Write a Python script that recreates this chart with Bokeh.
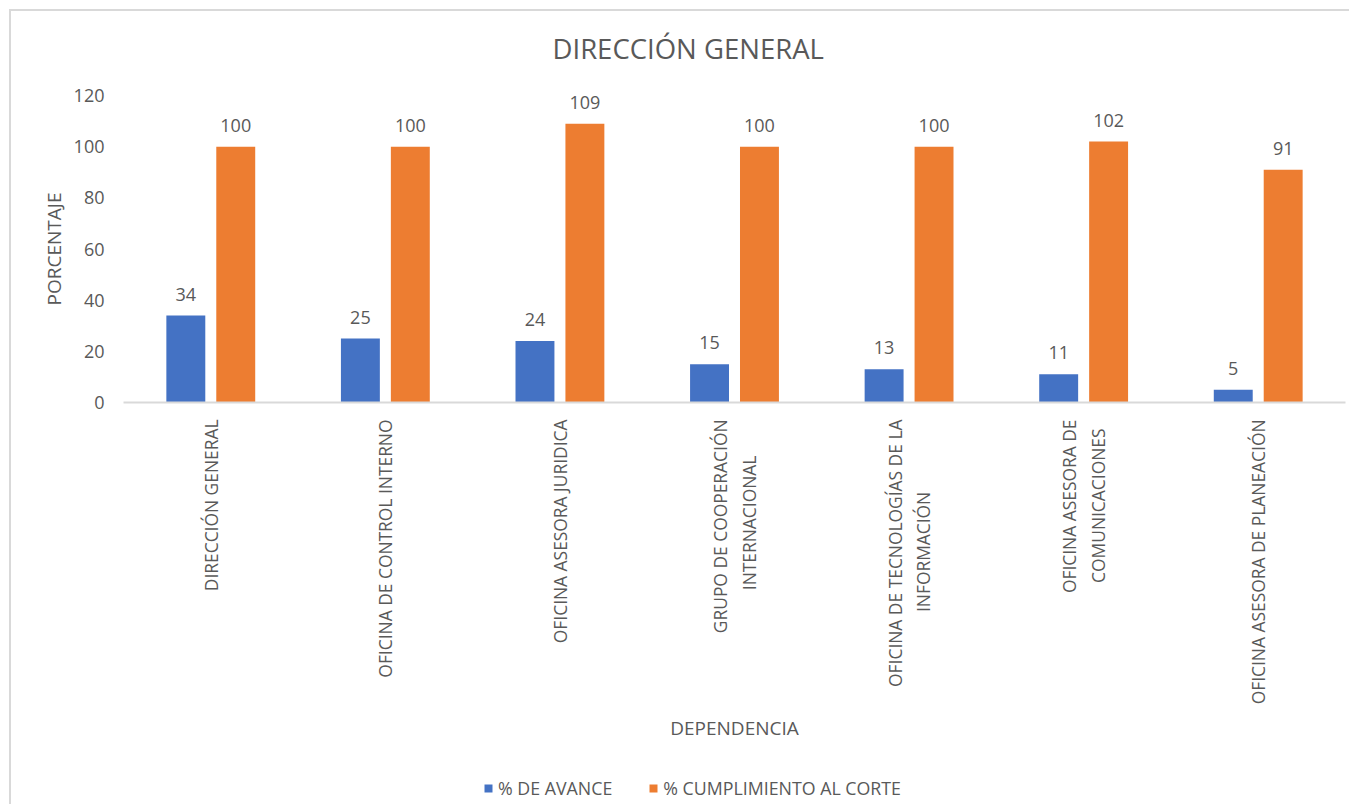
import math
from bokeh.plotting import figure
from bokeh.layouts import column
from bokeh.models import (Range1d, FixedTicker, ColumnDataSource, LabelSet, Legend,
                          LegendItem)
from bokeh.core.properties import value
from bokeh.embed import file_html
from bokeh.resources import INLINE

# ---------------- data ----------------
categories = [
    "DIRECCIÓN GENERAL",
    "OFICINA DE CONTROL INTERNO",
    "OFICINA ASESORA JURIDICA",
    "GRUPO DE COOPERACIÓN INTERNACIONAL",
    "OFICINA DE TECNOLOGÍAS DE LA INFORMACIÓN",
    "OFICINA ASESORA DE COMUNICACIONES",
    "OFICINA ASESORA DE PLANEACIÓN",
]
# tick labels split in lines as in the chart
category_lines = [
    ["DIRECCIÓN GENERAL"],
    ["OFICINA DE CONTROL INTERNO"],
    ["OFICINA ASESORA JURIDICA"],
    ["GRUPO DE COOPERACIÓN", "INTERNACIONAL"],
    ["OFICINA DE TECNOLOGÍAS DE LA", "INFORMACIÓN"],
    ["OFICINA ASESORA DE", "COMUNICACIONES"],
    ["OFICINA ASESORA DE PLANEACIÓN"],
]
avance = [34, 25, 24, 15, 13, 11, 5]
cumplimiento = [100, 100, 109, 100, 100, 102, 91]
series_names = ["% DE AVANCE", "% CUMPLIMIENTO AL CORTE"]
y_ticks = [0, 20, 40, 60, 80, 100, 120]

title_text = "DIRECCIÓN GENERAL"
x_title = "DEPENDENCIA"
y_title = "PORCENTAJE"

# ---------------- style ----------------
FONT = "Open Sans"
TXT = "#595959"
BLUE = "#4472C4"
ORANGE = "#ED7D31"
GREY = "#d9d9d9"
OFFSET = 0.143
BAR_W = 0.223
# non-breaking-space padding that centres a shorter second line under the first
LINE_PAD = {3: 8, 4: 16, 5: 2}

n = len(categories)
idx = list(range(n))
tick_labels = {}
for i, lines in enumerate(category_lines):
    if len(lines) > 1:
        lines = [lines[0], lines[1] + "\u00a0" * LINE_PAD.get(i, 0)]
    tick_labels[i] = "\n".join(lines)

src = ColumnDataSource(dict(
    x_a=[i - OFFSET for i in idx],
    x_c=[i + OFFSET for i in idx],
    avance=avance,
    cumplimiento=cumplimiento,
    lab_a=[str(v) for v in avance],
    lab_c=[str(v) for v in cumplimiento],
))

# ---------------- main chart ----------------
p = figure(width=1349, height=752, output_backend="svg", toolbar_location=None,
           x_range=Range1d(-0.5, n - 0.5), y_range=Range1d(y_ticks[0], y_ticks[-1]),
           min_border_left=123, min_border_right=4, min_border_top=94,
           min_border_bottom=350, title=title_text)
p.outline_line_color = None
p.grid.visible = False
p.background_fill_color = "white"
p.border_fill_alpha = 0
p.styles = {
    "background": (f"linear-gradient({GREY},{GREY}) 9px 9px / 2px 100% no-repeat, "
                   f"linear-gradient({GREY},{GREY}) 9px 9px / 100% 2px no-repeat, white")
}

p.title.align = "left"
p.title.offset = 429
p.title.vertical_align = "middle"
p.title.standoff = 56
p.title.text_font = FONT
p.title.text_font_size = "27.5px"
p.title.text_font_style = "normal"
p.title.text_color = TXT

p.vbar(x="x_a", top="avance", width=BAR_W, source=src, fill_color=BLUE, line_color=None)
p.vbar(x="x_c", top="cumplimiento", width=BAR_W, source=src, fill_color=ORANGE,
       line_color=None)

for xf, yf, tf in (("x_a", "avance", "lab_a"), ("x_c", "cumplimiento", "lab_c")):
    p.add_layout(LabelSet(x=xf, y=yf, text=tf, source=src, text_align="center",
                          text_baseline="alphabetic", y_offset=15,
                          text_font=value(FONT), text_font_size="18px",
                          text_color=TXT))

xa = p.xaxis[0]
xa.ticker = FixedTicker(ticks=idx)
xa.major_label_overrides = tick_labels
xa.major_label_orientation = math.pi / 2
xa.major_tick_line_color = None
xa.minor_tick_line_color = None
xa.axis_line_color = GREY
xa.axis_line_width = 2
xa.major_label_text_font = FONT
xa.major_label_text_font_size = "17.4px"
xa.major_label_text_color = TXT
xa.major_label_standoff = 11
xa.axis_label = x_title
xa.axis_label_text_font = FONT
xa.axis_label_text_font_size = "19px"
xa.axis_label_text_font_style = "normal"
xa.axis_label_text_color = TXT
xa.axis_label_standoff = 8

ya = p.yaxis[0]
ya.ticker = FixedTicker(ticks=y_ticks)
ya.axis_line_color = None
ya.major_tick_line_color = None
ya.minor_tick_line_color = None
ya.major_label_text_font = FONT
ya.major_label_text_font_size = "18px"
ya.major_label_text_color = TXT
ya.major_label_standoff = 13
ya.axis_label = y_title
ya.axis_label_text_font = FONT
ya.axis_label_text_font_size = "19px"
ya.axis_label_text_font_style = "normal"
ya.axis_label_text_color = TXT
ya.axis_label_standoff = 4

# ---------------- legend strip ----------------
lg = figure(width=1349, height=52, output_backend="svg", toolbar_location=None,
            x_range=Range1d(0, 1), y_range=Range1d(0, 1),
            x_axis_location=None, y_axis_location=None,
            min_border_left=0, min_border_right=0, min_border_top=0,
            min_border_bottom=0)
lg.outline_line_color = None
lg.grid.visible = False
lg.background_fill_alpha = 0
lg.border_fill_alpha = 0
lg.styles = {
    "background": f"linear-gradient({GREY},{GREY}) 9px 0 / 2px 100% no-repeat, white"
}
la = lg.vbar(x="x_a", top="avance", width=BAR_W, source=src, fill_color=BLUE,
             line_color=None, visible=False)
lc = lg.vbar(x="x_c", top="cumplimiento", width=BAR_W, source=src, fill_color=ORANGE,
             line_color=None, visible=False)
legend = Legend(items=[LegendItem(label=series_names[0], renderers=[la]),
                       LegendItem(label=series_names[1], renderers=[lc])],
                orientation="horizontal", location=(360, 4),
                glyph_width=10, glyph_height=10, label_standoff=5, spacing=36,
                padding=0, margin=0, border_line_color=None,
                background_fill_alpha=0,
                label_text_font=FONT, label_text_font_size="17.8px",
                label_text_color=TXT)
lg.add_layout(legend)

layout = column(p, lg, spacing=0)
open("out.html", "w").write(file_html(layout, INLINE))
